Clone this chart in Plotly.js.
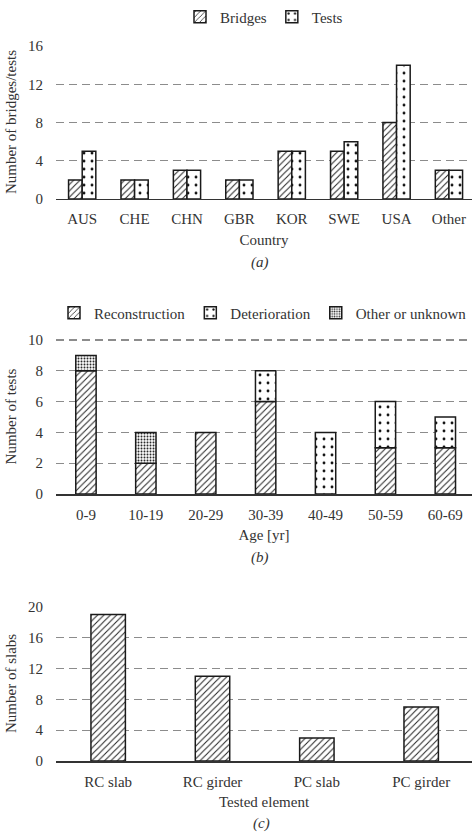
<!DOCTYPE html>
<html>
<head>
<meta charset="utf-8">
<script src="https://cdn.plot.ly/plotly-3.0.1.min.js"></script>
<style>html,body{margin:0;padding:0;background:#fff;}#chart{width:472px;height:840px;}</style>
</head>
<body>
<div id="chart"></div>
<script>
// Panel (a)
const countries = ["AUS", "CHE", "CHN", "GBR", "KOR", "SWE", "USA", "Other"];
const bridges = [2, 2, 3, 2, 5, 5, 8, 3];
const tests = [5, 2, 3, 2, 5, 6, 14, 3];
// Panel (b)
const ages = ["0-9", "10-19", "20-29", "30-39", "40-49", "50-59", "60-69"];
const reconstruction = [8, 2, 4, 6, 0, 3, 3];
const deterioration = [0, 0, 0, 2, 4, 3, 2];
const otherUnknown = [1, 2, 0, 0, 0, 0, 0];
// Panel (c)
const elements = ["RC slab", "RC girder", "PC slab", "PC girder"];
const slabs = [19, 11, 3, 7];

const FONT = "Liberation Serif";
const TXT = "#333333";
const outline = {color: "#1a1a1a", width: 1.5};
const hatch = {shape: "/", size: 4.5, solidity: 0.22, fgcolor: "#222", bgcolor: "#fff", fillmode: "replace"};
const dots = {shape: ".", size: 8, solidity: 0.1, fgcolor: "#111", bgcolor: "#fff", fillmode: "replace"};
const dense = {shape: ".", size: 3, solidity: 0.35, fgcolor: "#222", bgcolor: "#fff", fillmode: "replace"};
const nz = a => a.map(v => v === 0 ? null : v);
const base2 = reconstruction;
const base3 = reconstruction.map((v, i) => v + deterioration[i]);

const traces = [
  {type: "bar", name: "Bridges", x: countries, y: bridges, xaxis: "x", yaxis: "y", legend: "legend",
   width: 0.26, offset: -0.26, marker: {color: "#fff", pattern: hatch, line: outline}},
  {type: "bar", name: "Tests", x: countries, y: tests, xaxis: "x", yaxis: "y", legend: "legend",
   width: 0.26, offset: 0, marker: {color: "#fff", pattern: dots, line: outline}},
  {type: "bar", name: "Reconstruction", x: ages, y: nz(reconstruction), xaxis: "x2", yaxis: "y2", legend: "legend2",
   width: 0.34, marker: {color: "#fff", pattern: hatch, line: outline}},
  {type: "bar", name: "Deterioration", x: ages, y: nz(deterioration), base: base2, xaxis: "x2", yaxis: "y2", legend: "legend2",
   width: 0.34, marker: {color: "#fff", pattern: dots, line: outline}},
  {type: "bar", name: "Other or unknown", x: ages, y: nz(otherUnknown), base: base3, xaxis: "x2", yaxis: "y2", legend: "legend2",
   width: 0.34, marker: {color: "#fff", pattern: dense, line: outline}},
  {type: "bar", name: "Slabs", x: elements, y: slabs, xaxis: "x3", yaxis: "y3", showlegend: false,
   width: 0.33, marker: {color: "#fff", pattern: hatch, line: outline}}
];

const xBase = {
  type: "category", showline: true, linecolor: "#333", linewidth: 1.5, showgrid: false, zeroline: false,
  ticks: "", ticklabelstandoff: 6, tickfont: {family: FONT, size: 15, color: TXT}, fixedrange: true
};
const yBase = {
  showline: false, zeroline: false, showgrid: true, gridcolor: "#8c8c8c", gridwidth: 1.3, griddash: "8px,5px",
  ticks: "", ticklabelstandoff: 12, tickfont: {family: FONT, size: 15, color: TXT}, fixedrange: true
};
const ttl = (t) => ({text: t, font: {family: FONT, size: 15, color: TXT}});

const layout = {
  width: 472, height: 840,
  margin: {l: 56, r: 0, t: 0, b: 0},
  paper_bgcolor: "#fff", plot_bgcolor: "#fff",
  barmode: "overlay",
  font: {family: FONT, size: 15, color: TXT},
  xaxis: Object.assign({}, xBase, {anchor: "y", range: [-0.5, 7.44], title: Object.assign(ttl("Country"), {standoff: 8})}),
  yaxis: Object.assign({}, yBase, {anchor: "x", domain: [0.7631, 0.9463], range: [0, 16.1], tick0: 0, dtick: 4, title: Object.assign(ttl("Number of bridges/tests"), {standoff: 7})}),
  xaxis2: Object.assign({}, xBase, {anchor: "y2", range: [-0.5, 6.445], title: Object.assign(ttl("Age [yr]"), {standoff: 8})}),
  yaxis2: Object.assign({}, yBase, {anchor: "x2", domain: [0.4119, 0.5965], range: [0, 10.07], tick0: 0, dtick: 2, title: Object.assign(ttl("Number of tests"), {standoff: 7})}),
  xaxis3: Object.assign({}, xBase, {anchor: "y3", range: [-0.5, 3.487], title: Object.assign(ttl("Tested element"), {standoff: 8})}),
  yaxis3: Object.assign({}, yBase, {anchor: "x3", domain: [0.0940, 0.2789], range: [0, 20.13], tick0: 0, dtick: 4, title: Object.assign(ttl("Number of slabs"), {standoff: 7})}),
  legend: {orientation: "h", x: 0.5, xanchor: "center", y: 1 - 17/840, yanchor: "middle", font: {family: FONT, size: 15, color: TXT}, bgcolor: "rgba(0,0,0,0)"},
  legend2: {orientation: "h", x: 0.51, xanchor: "center", y: 1 - 313/840, yanchor: "middle", font: {family: FONT, size: 15, color: TXT}, bgcolor: "rgba(0,0,0,0)"},
  annotations: [
    {text: "<i>(a)</i>", xref: "paper", yref: "paper", x: 0.49, y: 1 - 262/840, yanchor: "middle", showarrow: false, font: {family: FONT, size: 15, color: TXT}},
    {text: "<i>(b)</i>", xref: "paper", yref: "paper", x: 0.49, y: 1 - 557/840, yanchor: "middle", showarrow: false, font: {family: FONT, size: 15, color: TXT}},
    {text: "<i>(c)</i>", xref: "paper", yref: "paper", x: 0.495, y: 1 - 823/840, yanchor: "middle", showarrow: false, font: {family: FONT, size: 15, color: TXT}}
  ]
};

Plotly.newPlot("chart", traces, layout, {displayModeBar: false, staticPlot: true});
</script>
</body>
</html>
